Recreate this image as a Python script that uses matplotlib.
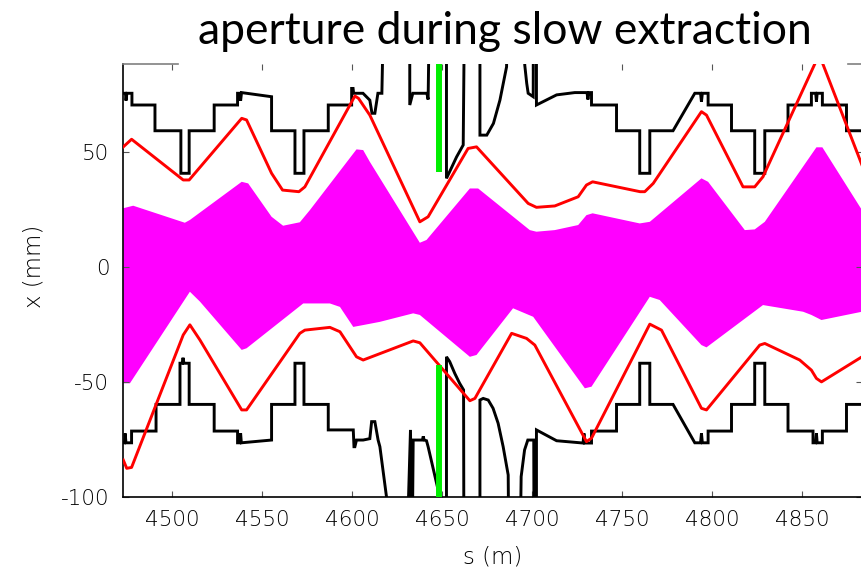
import matplotlib
matplotlib.use("Agg")
import matplotlib.pyplot as plt

# ---------------- data ----------------
ap_up_s = [4472.8, 4474.0, 4474.3, 4474.8, 4477.6, 4477.6, 4490.4, 4490.4, 4504.8, 4504.8,
           4509.4, 4509.4, 4523.3, 4523.3, 4536.3, 4536.3, 4537.6, 4538.0, 4538.5, 4555.2,
           4555.2, 4568.2, 4568.2, 4573.2, 4573.2, 4586.7, 4586.7, 4599.7, 4599.7, 4600.5,
           4600.8, 4606.0, 4609.8, 4611.0, 4612.6, 4614.3, 4616.5, 4617.9,
           4632.0, 4632.0, 4633.7, 4641.5, 4642.2, 4643.2,
           4652.4, 4652.4, 4655.0, 4658.0, 4661.7, 4662.6,
           4671.0, 4671.0, 4674.8, 4678.5, 4682.1, 4685.8, 4686.5,
           4695.5, 4695.9, 4697.0, 4697.8, 4700.6, 4700.8,
           4702.4, 4702.4, 4713.6, 4723.7, 4730.5, 4731.0, 4731.6, 4733.0, 4733.0, 4746.9,
           4746.9, 4759.8, 4759.8, 4765.4, 4765.4, 4778.3, 4790.4, 4793.6, 4794.1, 4794.6,
           4797.8, 4797.8, 4810.8, 4810.8, 4823.7, 4823.7, 4829.3, 4829.3, 4842.2, 4842.2,
           4855.2, 4855.2, 4857.6, 4858.0, 4858.4, 4861.3, 4861.3, 4874.7, 4874.7, 4890.0]
ap_up_x = [75.7, 75.7, 72.5, 75.7, 75.7, 70.6, 70.6, 59.4, 59.4, 40.9,
           40.9, 59.4, 59.4, 70.6, 70.6, 75.7, 75.7, 72.5, 76.0, 74.2,
           59.4, 59.4, 40.9, 40.9, 59.4, 59.4, 70.6, 70.6, 77.8, 77.8,
           75.7, 75.7, 72.7, 67.0, 67.0, 75.7, 75.7, 130.0,
           130.0, 70.6, 75.7, 75.7, 73.0, 130.0,
           130.0, 38.7, 43.0, 48.0, 53.2, 130.0,
           130.0, 57.5, 57.5, 62.6, 72.7, 87.2, 130.0,
           130.0, 88.0, 80.0, 75.7, 74.2, 130.0,
           130.0, 70.6, 75.0, 76.0, 76.0, 73.0, 76.0, 76.0, 70.6, 70.6,
           59.4, 59.4, 40.9, 40.9, 59.4, 59.4, 75.7, 75.7, 72.0, 75.7,
           75.7, 70.6, 70.6, 59.4, 59.4, 40.9, 40.9, 59.4, 59.4, 70.6,
           70.6, 75.7, 75.7, 72.0, 75.7, 75.7, 70.6, 70.6, 59.4, 59.4]

ap_lo_s = [4472.8, 4473.5, 4473.8, 4474.3, 4477.4, 4477.4, 4491.0, 4491.0, 4504.3, 4504.3,
           4505.5, 4506.0, 4506.5, 4509.4, 4509.4, 4523.3, 4523.3, 4536.3, 4536.3, 4537.6,
           4538.0, 4538.4, 4555.2, 4555.2, 4568.2, 4568.2, 4573.2, 4573.2, 4586.7, 4586.7,
           4600.6, 4601.0, 4601.5, 4602.4, 4606.1, 4609.8, 4610.8, 4612.6, 4614.4, 4615.4,
           4619.1, 4619.5,
           4630.2, 4632.4, 4633.3, 4633.9, 4639.0, 4639.5, 4640.0, 4641.3, 4642.2, 4648.7, 4649.0,
           4652.4, 4652.4, 4654.2, 4657.0, 4659.7, 4661.9, 4662.1,
           4671.0, 4671.0, 4672.8, 4675.6, 4678.3, 4681.1, 4683.9, 4686.7, 4687.1,
           4693.2, 4693.9, 4695.8, 4697.6, 4700.9, 4701.1,
           4702.4, 4702.4, 4713.6, 4728.3, 4728.8, 4729.3, 4733.0, 4733.0, 4746.9, 4746.9,
           4759.8, 4759.8, 4765.4, 4765.4, 4778.3, 4790.4, 4793.6, 4794.1, 4794.6, 4797.8,
           4797.8, 4810.8, 4810.8, 4823.7, 4823.7, 4829.3, 4829.3, 4842.2, 4842.2, 4856.1,
           4856.1, 4857.6, 4858.0, 4858.4, 4861.3, 4861.3, 4874.7, 4874.7, 4890.0]
ap_lo_x = [-76.3, -76.3, -72.2, -76.3, -76.3, -71.2, -71.2, -59.6, -59.6, -41.7,
           -41.7, -39.3, -41.7, -41.7, -59.6, -59.6, -71.2, -71.2, -76.3, -76.3,
           -72.2, -76.3, -75.1, -59.6, -59.6, -41.7, -41.7, -59.6, -59.6, -70.7,
           -70.7, -78.0, -78.0, -75.1, -75.1, -74.5, -67.1, -67.1, -75.1, -78.0,
           -100.0, -130.0,
           -130.0, -70.7, -130.0, -75.1, -75.1, -73.5, -75.1, -75.4, -78.0, -100.0, -130.0,
           -130.0, -38.9, -41.0, -46.1, -50.4, -53.3, -130.0,
           -130.0, -57.7, -57.0, -57.7, -61.3, -67.8, -78.0, -90.3, -130.0,
           -130.0, -91.0, -79.4, -75.1, -75.1, -130.0,
           -130.0, -70.7, -75.4, -76.4, -72.2, -76.4, -76.4, -71.2, -71.2, -59.6,
           -59.6, -41.7, -41.7, -59.6, -59.6, -76.3, -76.3, -72.2, -76.3, -76.3,
           -71.2, -71.2, -59.6, -59.6, -41.7, -41.7, -59.6, -59.6, -71.2, -71.2,
           -76.3, -76.3, -72.2, -76.3, -76.3, -71.2, -71.2, -59.6, -59.6]

red_up_s = [4472.8, 4477.4, 4506.1, 4509.4, 4538.6, 4541.3, 4555.2, 4561.3, 4570.4, 4573.7,
            4601.5, 4603.5, 4609.8, 4637.6, 4642.2, 4664.4, 4669.1, 4697.8, 4702.4, 4712.6,
            4725.6, 4730.2, 4733.6, 4760.0, 4762.6, 4767.3, 4794.1, 4796.9, 4817.2, 4823.7,
            4828.3, 4858.0, 4860.8, 4883.3]
red_up_x = [52.4, 55.7, 38.0, 38.0, 64.8, 64.1, 40.9, 33.6, 32.9, 35.0,
            74.5, 73.5, 66.2, 19.8, 22.0, 51.7, 52.4, 27.8, 26.1, 26.7,
            30.7, 35.8, 37.2, 32.9, 32.9, 36.5, 67.7, 66.2, 35.0, 35.0,
            39.4, 90.0, 90.0, 44.5]

red_lo_s = [4472.8, 4474.7, 4477.4, 4506.1, 4509.8, 4515.4, 4538.6, 4541.3, 4570.9, 4573.7,
            4587.6, 4593.2, 4602.4, 4606.1, 4633.9, 4637.6, 4665.4, 4668.2, 4688.6, 4696.9,
            4701.5, 4730.2, 4733.0, 4765.4, 4771.9, 4794.1, 4796.9, 4826.5, 4829.3, 4848.7,
            4855.2, 4858.0, 4860.8, 4883.3]
red_lo_x = [-83.8, -87.4, -87.0, -29.4, -25.0, -31.6, -62.0, -62.0, -28.7, -27.3,
            -26.1, -28.0, -38.9, -40.3, -32.0, -32.8, -58.0, -57.0, -28.7, -30.9,
            -33.8, -75.8, -74.3, -24.7, -27.3, -61.3, -62.0, -33.8, -33.1, -40.3,
            -44.7, -48.3, -49.8, -38.9]

beam_up_s = [4472.8, 4478.3, 4507.0, 4509.8, 4538.6, 4542.2, 4555.2, 4561.6, 4570.9, 4576.5,
             4602.4, 4606.1, 4609.8, 4637.6, 4641.3, 4665.4, 4670.0, 4698.7, 4702.4, 4712.6,
             4725.6, 4730.2, 4733.6, 4759.8, 4765.4, 4794.1, 4797.8, 4818.2, 4823.7, 4829.3,
             4858.0, 4861.3, 4883.3]
beam_up_x = [25.7, 26.8, 19.4, 20.6, 37.2, 36.5, 22.0, 18.1, 19.6, 24.9,
             51.3, 51.0, 45.9, 10.7, 11.9, 34.3, 34.3, 16.2, 15.5, 16.2,
             18.4, 22.7, 23.5, 19.1, 19.8, 38.7, 37.2, 16.2, 16.5, 19.8,
             52.2, 52.2, 24.9]

beam_lo_s = [4472.8, 4476.5, 4509.8, 4515.4, 4538.6, 4541.3, 4572.8, 4587.6, 4593.2, 4600.6,
             4606.1, 4615.4, 4633.9, 4637.6, 4665.4, 4669.1, 4689.4, 4700.6, 4729.3, 4733.0,
             4765.4, 4770.9, 4794.1, 4796.9, 4828.3, 4850.6, 4855.2, 4860.8, 4883.3]
beam_lo_x = [-50.4, -50.4, -10.6, -14.9, -35.9, -35.2, -15.7, -15.7, -17.2, -25.9,
             -25.1, -23.7, -20.0, -20.7, -38.9, -38.1, -17.8, -21.5, -52.6, -51.9,
             -12.8, -14.2, -33.8, -34.8, -16.4, -19.3, -20.7, -22.9, -19.3]

septum_s = [4648.0, 4648.0]
septum_up_x = [41.6, 95.0]
septum_lo_x = [-42.5, -105.0]

x_ticks = [4500, 4550, 4600, 4650, 4700, 4750, 4800, 4850]
y_ticks = [-100, -50, 0, 50]
title_text = "aperture during slow extraction"
xlabel_text = "s (m)"
ylabel_text = "x (mm)"

# ---------------- figure ----------------
fig = plt.figure(figsize=(8.62, 5.74), dpi=100)
ax = fig.add_axes([123.3 / 862, 76.7 / 574, (862.5 - 123.3) / 862, (497.3 - 64.3) / 574])

# beam envelope (magenta)
poly_s = beam_up_s + beam_lo_s[::-1]
poly_x = beam_up_x + beam_lo_x[::-1]
ax.fill(poly_s, poly_x, color="#ff00ff", lw=0, zorder=1)

lw = 2.1
ax.plot(ap_up_s, ap_up_x, color="black", lw=lw, zorder=3, solid_joinstyle="miter")
ax.plot(ap_lo_s, ap_lo_x, color="black", lw=lw, zorder=3, solid_joinstyle="miter")
ax.plot(red_up_s, red_up_x, color="#ff0000", lw=lw, zorder=4)
ax.plot(red_lo_s, red_lo_x, color="#ff0000", lw=lw, zorder=4)
ax.plot(septum_s, septum_up_x, color="#00ee00", lw=4.3, zorder=5, solid_capstyle="butt")
ax.plot(septum_s, septum_lo_x, color="#00ee00", lw=4.3, zorder=5, solid_capstyle="butt")

ax.set_xlim(4472.8, 4883.6)
ax.set_ylim(-100, 88.3)
ax.set_xticks(x_ticks)
ax.set_yticks(y_ticks)
ax.set_xticklabels([str(v) for v in x_ticks])
ax.set_yticklabels([str(v) for v in y_ticks])

tick_font = "DejaVu Sans"
for lab in ax.get_xticklabels() + ax.get_yticklabels():
    lab.set_fontfamily(tick_font)
    lab.set_fontweight("light")
    lab.set_fontsize(15.5)

ax.tick_params(direction="in", length=4, width=0.8, color="#555555",
               top=True, right=True, labelcolor="black")
ax.tick_params(axis="x", pad=9)
ax.tick_params(axis="y", pad=10)

ax.spines["top"].set_visible(False)
ax.spines["right"].set_visible(False)
ax.spines["left"].set_linewidth(1.2)
ax.spines["bottom"].set_linewidth(1.2)
# partially visible top frame line
ax.plot([0, 0.0745], [1, 1], transform=ax.transAxes, color="#808080", lw=1.2, clip_on=False, zorder=6)
ax.plot([0.981, 1.0], [1, 1], transform=ax.transAxes, color="#808080", lw=1.2, clip_on=False, zorder=6)

fig.text(505 / 862, 1 - 32 / 574, title_text, ha="center", va="center",
         fontfamily="Lato", fontsize=32)
fig.text(493 / 862, 1 - 557 / 574, xlabel_text, ha="center", va="center",
         fontfamily=tick_font, fontweight="light", fontsize=16.5)
fig.text(34 / 862, 1 - 266 / 574, ylabel_text, ha="center", va="center", rotation=90,
         fontfamily=tick_font, fontweight="light", fontsize=16.5)

fig.savefig("out.png", dpi=100)
